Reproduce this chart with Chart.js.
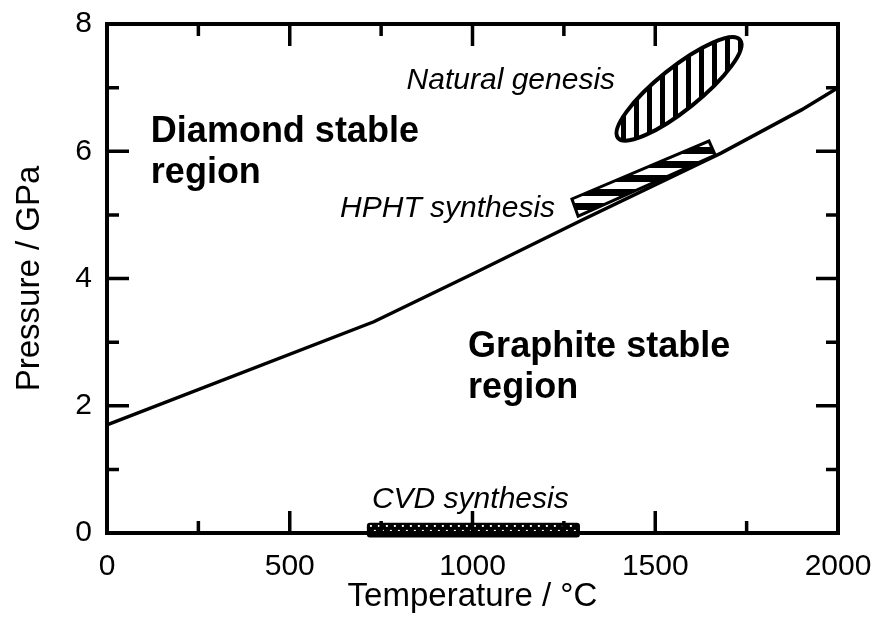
<!DOCTYPE html>
<html>
<head>
<meta charset="utf-8">
<script src="https://cdn.jsdelivr.net/npm/chart.js@4.4.1/dist/chart.umd.min.js"></script>
<style>html,body{margin:0;padding:0;background:#fff}</style>
</head>
<body>
<canvas id="chart" width="875" height="617"></canvas>
<script>
// diamond / graphite equilibrium line
const temps = [0, 730, 1000, 1300, 1680, 1900, 2000];
const pressures = [1.7, 3.32, 4.07, 4.92, 5.97, 6.65, 7.0];

const xTickValues = [0, 500, 1000, 1500, 2000];
const yTickValues = [0, 2, 4, 6, 8];

// synthesis regions (°C, GPa)
const cvdTemps = [711, 1294];
const cvdPressures = [-0.07, 0.16];
const hphtTemps = [1272, 1289, 1664, 1647];
const hphtPressures = [5.25, 4.98, 5.94, 6.16];
const naturalTemps = [1398, 1732];      // ends of the ellipse
const naturalPressures = [6.21, 7.75];

const labelTexts = ['Diamond stable', 'region', 'Graphite stable', 'region',
  'Natural genesis', 'HPHT synthesis', 'CVD synthesis'];

const FONT = '"Liberation Sans", Arial, sans-serif';

// where the labels go, in data units
const labelSpots = [
  {t: 120, p: 6.15, align: 'left', font: 'bold 36px ' + FONT},
  {t: 120, p: 5.5, align: 'left', font: 'bold 36px ' + FONT},
  {t: 988, p: 2.77, align: 'left', font: 'bold 36px ' + FONT},
  {t: 988, p: 2.12, align: 'left', font: 'bold 36px ' + FONT},
  {t: 1390, p: 6.98, align: 'right', font: 'italic 30px ' + FONT},
  {t: 1226, p: 4.97, align: 'right', font: 'italic 30px ' + FONT},
  {t: 994, p: 0.39, align: 'center', font: 'italic 30px ' + FONT}
];

function makePattern(w, h, paint){
  const c = document.createElement('canvas');
  c.width = w; c.height = h;
  paint(c.getContext('2d'));
  return c;
}

const vStripes = makePattern(13, 13, g => {
  g.fillStyle = '#fff'; g.fillRect(0, 0, 13, 13);
  g.fillStyle = '#000'; g.fillRect(0, 0, 5, 13);
});
const hStripes = makePattern(14, 14, g => {
  g.fillStyle = '#fff'; g.fillRect(0, 0, 14, 14);
  g.fillStyle = '#000'; g.fillRect(0, 0, 14, 7);
});
const dots = makePattern(8, 12, g => {
  g.fillStyle = '#fff';
  g.fillRect(1, 2, 2, 2);
  g.fillRect(5, 7, 2, 2);
});

const frameTicks = {
  id: 'frameTicks',
  afterDatasetsDraw(chart){
    const {ctx, chartArea: a, scales: {x, y}} = chart;
    const major = 22, minor = 12;
    ctx.save();
    ctx.strokeStyle = '#000';
    ctx.lineWidth = 3.5;
    ctx.lineCap = 'butt';
    ctx.beginPath();
    const xs = x.ticks.map(t => t.value);
    xs.forEach((v, i) => {
      const px = x.getPixelForValue(v);
      ctx.moveTo(px, a.bottom); ctx.lineTo(px, a.bottom - major);
      ctx.moveTo(px, a.top); ctx.lineTo(px, a.top + major);
      if(i < xs.length - 1){
        const mx = x.getPixelForValue((v + xs[i + 1]) / 2);
        ctx.moveTo(mx, a.bottom); ctx.lineTo(mx, a.bottom - minor);
        ctx.moveTo(mx, a.top); ctx.lineTo(mx, a.top + minor);
      }
    });
    const ys = y.ticks.map(t => t.value);
    ys.forEach((v, i) => {
      const py = y.getPixelForValue(v);
      ctx.moveTo(a.left, py); ctx.lineTo(a.left + major, py);
      ctx.moveTo(a.right, py); ctx.lineTo(a.right - major, py);
      if(i < ys.length - 1){
        const my = y.getPixelForValue((v + ys[i + 1]) / 2);
        ctx.moveTo(a.left, my); ctx.lineTo(a.left + minor, my);
        ctx.moveTo(a.right, my); ctx.lineTo(a.right - minor, my);
      }
    });
    ctx.stroke();
    ctx.lineWidth = 4;
    ctx.strokeRect(a.left, a.top, a.right - a.left, a.bottom - a.top);
    ctx.restore();
  }
};

const regions = {
  id: 'regions',
  afterDatasetsDraw(chart){
    const {ctx, scales: {x, y}} = chart;
    ctx.save();

    // natural genesis ellipse
    const x1 = x.getPixelForValue(naturalTemps[0]), y1 = y.getPixelForValue(naturalPressures[0]);
    const x2 = x.getPixelForValue(naturalTemps[1]), y2 = y.getPixelForValue(naturalPressures[1]);
    const rx = Math.hypot(x2 - x1, y2 - y1) / 2;
    ctx.beginPath();
    ctx.ellipse((x1 + x2) / 2, (y1 + y2) / 2, rx, rx * 0.27, Math.atan2(y2 - y1, x2 - x1), 0, Math.PI * 2);
    const vp = ctx.createPattern(vStripes, 'repeat');
    vp.setTransform(new DOMMatrix().translate(x1 + 3, 0));
    ctx.fillStyle = vp;
    ctx.fill();
    ctx.lineWidth = 4;
    ctx.strokeStyle = '#000';
    ctx.stroke();

    // HPHT parallelogram
    ctx.beginPath();
    hphtTemps.forEach((t, i) => {
      const px = x.getPixelForValue(t), py = y.getPixelForValue(hphtPressures[i]);
      i ? ctx.lineTo(px, py) : ctx.moveTo(px, py);
    });
    ctx.closePath();
    const hp = ctx.createPattern(hStripes, 'repeat');
    hp.setTransform(new DOMMatrix().translate(0, y.getPixelForValue(hphtPressures[0]) + 4));
    ctx.fillStyle = hp;
    ctx.fill();
    ctx.lineWidth = 3;
    ctx.lineJoin = 'miter';
    ctx.stroke();

    // CVD bar
    const cl = x.getPixelForValue(cvdTemps[0]), cr = x.getPixelForValue(cvdTemps[1]);
    const ct = y.getPixelForValue(cvdPressures[1]), cb = y.getPixelForValue(cvdPressures[0]);
    ctx.beginPath();
    ctx.roundRect(cl, ct, cr - cl, cb - ct, 3);
    ctx.fillStyle = '#000';
    ctx.fill();
    ctx.beginPath();
    ctx.rect(cl + 3, ct + 2, cr - cl - 6, cb - ct - 4);
    const dp = ctx.createPattern(dots, 'repeat');
    dp.setTransform(new DOMMatrix().translate(cl + 2, ct));
    ctx.fillStyle = dp;
    ctx.fill();

    // labels
    ctx.fillStyle = '#000';
    ctx.textBaseline = 'alphabetic';
    labelTexts.forEach((txt, i) => {
      const s = labelSpots[i];
      ctx.font = s.font;
      ctx.textAlign = s.align;
      ctx.fillText(txt, x.getPixelForValue(s.t), y.getPixelForValue(s.p));
    });
    ctx.restore();
  }
};

function noPad(s){
  s.paddingTop = 0; s.paddingBottom = 0; s.paddingLeft = 0; s.paddingRight = 0;
}

new Chart(document.getElementById('chart').getContext('2d'), {
  type: 'scatter',
  data: {
    datasets: [{
      data: temps.map((t, i) => ({x: t, y: pressures[i]})),
      showLine: true,
      borderColor: '#000',
      borderWidth: 3.5,
      pointRadius: 0,
      tension: 0
    }]
  },
  options: {
    responsive: false,
    animation: false,
    layout: {padding: {left: 0, right: 37, top: 24, bottom: 0}},
    plugins: {legend: {display: false}, tooltip: {enabled: false}},
    scales: {
      x: {
        type: 'linear', min: 0, max: 2000,
        afterBuildTicks: s => { s.ticks = xTickValues.map(v => ({value: v})); },
        afterFit: s => { s.height = 84; noPad(s); },
        grid: {display: false, drawTicks: false},
        border: {display: false},
        ticks: {color: '#000', padding: 16, maxRotation: 0, callback: v => String(v),
          font: {family: FONT, size: 30}},
        title: {display: true, text: 'Temperature / °C', color: '#000', padding: {top: 0, bottom: 0},
          font: {family: FONT, size: 33}}
      },
      y: {
        type: 'linear', min: 0, max: 8,
        afterBuildTicks: s => { s.ticks = yTickValues.map(v => ({value: v})); },
        afterFit: s => { s.width = 107; noPad(s); },
        grid: {display: false, drawTicks: false},
        border: {display: false},
        ticks: {color: '#000', padding: 15, callback: v => String(v), font: {family: FONT, size: 30}},
        title: {display: true, text: 'Pressure / GPa', color: '#000', padding: {top: 10, bottom: 0},
          font: {family: FONT, size: 33}}
      }
    }
  },
  plugins: [regions, frameTicks]
});
</script>
</body>
</html>
